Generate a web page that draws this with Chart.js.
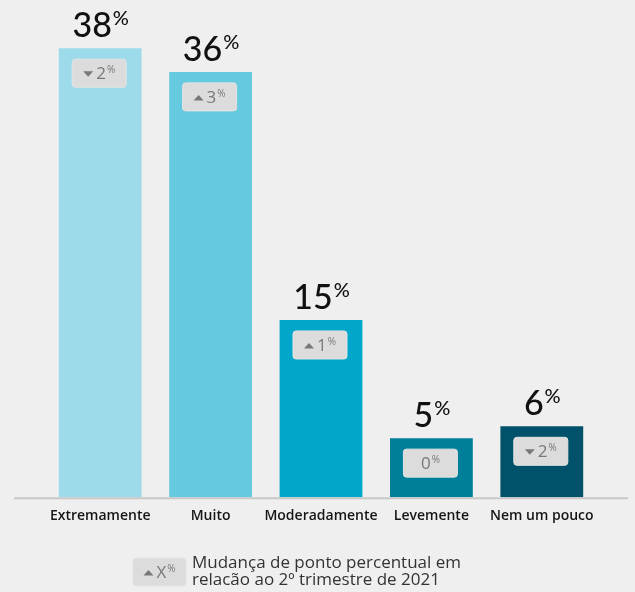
<!DOCTYPE html>
<html>
<head>
<meta charset="utf-8">
<script src="https://cdn.jsdelivr.net/npm/chart.js@4.4.1/dist/chart.umd.min.js"></script>
<style>
  html, body { margin: 0; padding: 0; background: #efefef; }
  #wrap { width: 635px; height: 592px; }
</style>
</head>
<body>
<div id="wrap"><canvas id="myChart" width="635" height="592"></canvas></div>
<script>
// data
const categories = ['Extremamente', 'Muito', 'Moderadamente', 'Levemente', 'Nem um pouco'];
const shares = [38, 36, 15, 5, 6];
const changes = [2, 3, 1, 0, 2];
const changeDirection = ['down', 'up', 'up', 'none', 'down'];
const barColors = ['#9ddbeb', '#65c9df', '#00a7cb', '#007f9b', '#00526a'];

const legendLines = ['Mudança de ponto percentual em', 'relacão ao 2º trimestre de 2021'];

// number with a small raised % sign, centred on x
function drawPercent(ctx, x, y, num, bigFont, smallFont, raise, color) {
  ctx.font = bigFont;
  const w1 = ctx.measureText(num).width;
  ctx.font = smallFont;
  const w2 = ctx.measureText('%').width;
  const start = x - (w1 + w2) / 2;
  ctx.fillStyle = color;
  ctx.textAlign = 'left';
  ctx.textBaseline = 'alphabetic';
  ctx.font = bigFont;
  ctx.fillText(num, start, y);
  ctx.font = smallFont;
  ctx.fillText('%', start + w1 + 1, y - raise);
}

// grey pill with an arrow and the change value
function drawBadge(ctx, cx, top, w, h, label, dir) {
  ctx.save();
  ctx.fillStyle = '#dcdcdc';
  ctx.strokeStyle = '#e4e4e4';
  ctx.lineWidth = 1;
  ctx.beginPath();
  ctx.roundRect(cx - w / 2, top, w, h, 3);
  ctx.fill();
  ctx.stroke();

  const bigFont = '500 17px "Open Sans"';
  const smallFont = '500 10px "Open Sans"';
  ctx.font = bigFont;
  const w1 = ctx.measureText(label).width;
  ctx.font = smallFont;
  const w2 = ctx.measureText('%').width;
  const arrowW = dir === 'none' ? 0 : 10;
  const gap = dir === 'none' ? 0 : 3;
  const total = arrowW + gap + w1 + w2 + 1;
  let x = cx - total / 2;
  const base = top + h / 2 + 6;
  ctx.fillStyle = '#787878';
  if (dir !== 'none') {
    const my = top + h / 2 + 1;
    ctx.beginPath();
    if (dir === 'up') {
      ctx.moveTo(x, my + 2.5);
      ctx.lineTo(x + arrowW, my + 2.5);
      ctx.lineTo(x + arrowW / 2, my - 3);
    } else {
      ctx.moveTo(x, my - 3);
      ctx.lineTo(x + arrowW, my - 3);
      ctx.lineTo(x + arrowW / 2, my + 2.5);
    }
    ctx.closePath();
    ctx.fill();
    x += arrowW + gap;
  }
  ctx.textAlign = 'left';
  ctx.textBaseline = 'alphabetic';
  ctx.font = bigFont;
  ctx.fillText(label, x, base);
  ctx.font = smallFont;
  ctx.fillText('%', x + w1 + 1, base - 6);
  ctx.restore();
}

const barLabels = {
  id: 'barLabels',
  afterDatasetsDraw: (chart) => {
    const ctx = chart.ctx;
    const bars = chart.getDatasetMeta(0).data;
    ctx.save();
    bars.forEach((bar, i) => {
      drawPercent(ctx, bar.x, bar.y - 11, String(shares[i]),
        '500 34px Lato', '500 20px Lato', 12, '#111111');
      drawBadge(ctx, bar.x - 1, bar.y + 11, 54, 28, String(changes[i]), changeDirection[i]);
    });
    ctx.restore();
  }
};

// baseline running under all bars
const baseLine = {
  id: 'baseLine',
  beforeDatasetsDraw: (chart) => {
    const ctx = chart.ctx;
    const y = chart.scales.y.getPixelForValue(0);
    ctx.save();
    ctx.strokeStyle = '#c8c8c8';
    ctx.lineWidth = 2;
    ctx.beginPath();
    ctx.moveTo(14, y + 1);
    ctx.lineTo(628, y + 1);
    ctx.stroke();
    ctx.restore();
  }
};

const legendNote = {
  id: 'legendNote',
  afterDraw: (chart) => {
    const ctx = chart.ctx;
    ctx.save();
    drawBadge(ctx, 159.5, 558, 53, 28, 'X', 'up');
    ctx.fillStyle = '#333333';
    ctx.font = '17px "Open Sans"';
    ctx.textAlign = 'left';
    ctx.textBaseline = 'alphabetic';
    ctx.fillText(legendLines[0], 192, 568);
    ctx.fillText(legendLines[1], 192, 585);
    ctx.restore();
  }
};

const config = {
  type: 'bar',
  data: {
    labels: categories,
    datasets: [{
      data: shares,
      backgroundColor: barColors,
      borderWidth: 0,
      barPercentage: 0.75,
      categoryPercentage: 1
    }]
  },
  options: {
    responsive: false,
    animation: false,
    layout: { padding: { left: 45, right: 38, top: 1, bottom: 66 } },
    plugins: {
      legend: { display: false },
      tooltip: { enabled: false }
    },
    scales: {
      x: {
        grid: { display: false },
        border: { display: false },
        ticks: {
          padding: 2,
          minRotation: 0,
          maxRotation: 0,
          autoSkip: false,
          color: '#151515',
          font: { family: '"Open Sans"', size: 14, weight: '600' }
        }
      },
      y: {
        display: false,
        min: 0,
        max: 42
      }
    }
  },
  plugins: [baseLine, barLabels, legendNote]
};

let chart;
function createChart() {
  const ctx = document.getElementById('myChart').getContext('2d');
  if (chart) {
    chart.destroy();
  }
  chart = new Chart(ctx, config);
}
window.onload = createChart;
</script>
</body>
</html>
